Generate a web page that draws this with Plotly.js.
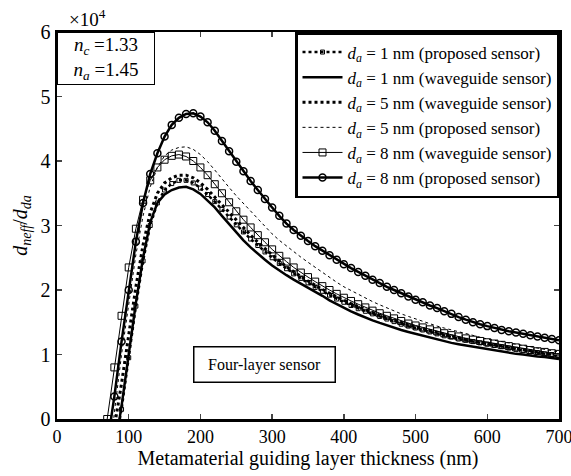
<!DOCTYPE html>
<html>
<head>
<meta charset="utf-8">
<script src="https://cdn.plot.ly/plotly-3.0.1.min.js"></script>
<style>html,body{margin:0;padding:0;background:#fff;}#chart{width:571px;height:476px;}</style>
</head>
<body>
<div id="chart"></div>
<script>
// Metamaterial guiding layer thickness (nm)
const thickness = [70,80,90,100,110,120,130,140,150,160,170,180,190,200,210,220,230,240,250,260,270,280,290,300,310,320,330,340,350,360,370,380,390,400,410,420,430,440,450,460,470,480,490,500,510,520,530,540,550,560,570,580,590,600,610,620,630,640,650,660,670,680,690,700];

// Sensitivity values in units of 1e4
const da1Proposed = [-1.1,-0.45,0.15,0.95,1.75,2.45,3.0,3.35,3.55,3.65,3.7,3.7,3.66,3.58,3.48,3.37,3.25,3.13,3.01,2.9,2.79,2.69,2.59,2.5,2.41,2.33,2.25,2.18,2.11,2.04,1.98,1.92,1.86,1.81,1.76,1.71,1.67,1.63,1.59,1.55,1.51,1.47,1.44,1.41,1.38,1.35,1.32,1.29,1.27,1.24,1.22,1.2,1.18,1.16,1.14,1.12,1.1,1.08,1.06,1.04,1.03,1.01,1.0,0.98];
const da1Waveguide = [-1.2,-0.5,0.2,1.0,1.8,2.5,3.05,3.35,3.48,3.55,3.59,3.6,3.56,3.49,3.39,3.28,3.15,3.02,2.89,2.77,2.66,2.56,2.47,2.38,2.3,2.23,2.16,2.1,2.04,1.98,1.91,1.84,1.78,1.72,1.67,1.62,1.57,1.53,1.49,1.45,1.41,1.38,1.35,1.32,1.29,1.26,1.23,1.21,1.18,1.16,1.14,1.12,1.1,1.08,1.06,1.04,1.03,1.01,1.0,0.98,0.97,0.96,0.94,0.93];
const da5Waveguide = [-0.8,-0.15,0.55,1.3,2.05,2.7,3.2,3.5,3.66,3.74,3.78,3.78,3.74,3.66,3.56,3.44,3.32,3.2,3.08,2.96,2.85,2.74,2.64,2.54,2.45,2.36,2.28,2.21,2.14,2.07,2.01,1.95,1.89,1.84,1.79,1.74,1.69,1.65,1.61,1.57,1.53,1.49,1.46,1.43,1.4,1.37,1.34,1.31,1.28,1.26,1.23,1.21,1.19,1.17,1.15,1.13,1.11,1.09,1.07,1.05,1.04,1.02,1.01,0.99];
const da5Proposed = [-1.0,0.1,1.0,1.8,2.55,3.15,3.6,3.9,4.08,4.17,4.21,4.22,4.18,4.1,3.99,3.86,3.72,3.59,3.46,3.34,3.22,3.1,2.98,2.87,2.77,2.68,2.59,2.51,2.43,2.35,2.27,2.19,2.12,2.05,1.99,1.93,1.87,1.82,1.77,1.72,1.67,1.63,1.59,1.55,1.51,1.47,1.44,1.41,1.38,1.35,1.32,1.29,1.27,1.24,1.22,1.2,1.18,1.16,1.14,1.12,1.1,1.08,1.06,1.04];
const da8Waveguide = [0.0,0.8,1.6,2.35,2.95,3.4,3.7,3.9,4.02,4.08,4.1,4.07,4.0,3.9,3.78,3.64,3.5,3.36,3.22,3.09,2.97,2.85,2.74,2.63,2.53,2.44,2.35,2.27,2.2,2.13,2.06,2.0,1.94,1.88,1.83,1.78,1.73,1.68,1.64,1.6,1.56,1.52,1.48,1.45,1.42,1.39,1.36,1.33,1.3,1.28,1.25,1.23,1.21,1.19,1.17,1.15,1.13,1.11,1.09,1.07,1.05,1.04,1.02,1.01];
const da8Proposed = [-0.4,0.35,1.2,2.0,2.75,3.35,3.8,4.12,4.38,4.56,4.67,4.73,4.74,4.69,4.6,4.47,4.31,4.15,3.99,3.84,3.69,3.55,3.41,3.28,3.15,3.03,2.93,2.84,2.76,2.68,2.61,2.54,2.47,2.4,2.34,2.28,2.22,2.16,2.11,2.05,2.0,1.95,1.9,1.85,1.81,1.76,1.72,1.67,1.63,1.58,1.54,1.5,1.47,1.44,1.41,1.38,1.36,1.34,1.32,1.3,1.28,1.26,1.24,1.22];

const seriesNames = [
  '<i>d</i><sub><i>a</i></sub> = 1 nm (proposed sensor)',
  '<i>d</i><sub><i>a</i></sub> = 1 nm (waveguide sensor)',
  '<i>d</i><sub><i>a</i></sub> = 5 nm (waveguide sensor)',
  '<i>d</i><sub><i>a</i></sub> = 5 nm (proposed sensor)',
  '<i>d</i><sub><i>a</i></sub> = 8 nm (waveguide sensor)',
  '<i>d</i><sub><i>a</i></sub> = 8 nm (proposed sensor)'
];
const xTicks = [0,100,200,300,400,500,600,700];
const yTicks = [0,1,2,3,4,5,6];

const serif = 'Liberation Serif';

const traces = [
  {x: thickness, y: da1Proposed, name: seriesNames[0], mode: 'lines+markers',
   line: {color: '#000', width: 2.5, dash: 'dot'}, marker: {symbol: 'square-open', size: 4, color: '#000', line: {width: 1}}},
  {x: thickness, y: da1Waveguide, name: seriesNames[1], mode: 'lines',
   line: {color: '#000', width: 2.5}},
  {x: thickness, y: da5Waveguide, name: seriesNames[2], mode: 'lines',
   line: {color: '#000', width: 3, dash: 'dot'}},
  {x: thickness, y: da5Proposed, name: seriesNames[3], mode: 'lines',
   line: {color: '#000', width: 1, dash: 'dot'}},
  {x: thickness, y: da8Waveguide, name: seriesNames[4], mode: 'lines+markers',
   line: {color: '#000', width: 1}, marker: {symbol: 'square-open', size: 7, color: '#000', line: {width: 1}}},
  {x: thickness, y: da8Proposed, name: seriesNames[5], mode: 'lines+markers',
   line: {color: '#000', width: 2.5}, marker: {symbol: 'circle-open', size: 7, color: '#000', line: {width: 1.5}}}
];

const layout = {
  width: 571, height: 476,
  margin: {l: 57, r: 12, t: 32, b: 57},
  paper_bgcolor: '#fff', plot_bgcolor: '#fff',
  font: {family: serif, color: '#000'},
  showlegend: true,
  legend: {x: 1, xanchor: 'right', y: 1, yanchor: 'top', bgcolor: '#fff',
           bordercolor: '#000', borderwidth: 2.5, font: {family: serif, size: 17, color: '#000'},
           tracegroupgap: 0, itemwidth: 40},
  xaxis: {range: [0, 700], tickvals: xTicks, ticks: 'inside', ticklen: 5, tickwidth: 1.5,
          showline: true, linewidth: 2.5, linecolor: '#000', mirror: 'ticks', showgrid: false, zeroline: false,
          tickfont: {family: serif, size: 18}, ticklabeloverflow: 'allow',
          title: {text: 'Metamaterial guiding layer thickness (nm)', font: {family: serif, size: 20}, standoff: 2}},
  yaxis: {range: [0, 6], tickvals: yTicks, ticks: 'inside', ticklen: 5, tickwidth: 1.5,
          showline: true, linewidth: 2.5, linecolor: '#000', mirror: 'ticks', showgrid: false, zeroline: false,
          tickfont: {family: serif, size: 20}, ticklabeloverflow: 'allow',
          title: {text: '<i>d</i><sub><i>neff</i></sub>/<i>d</i><sub><i>da</i></sub>', font: {family: serif, size: 20}, standoff: 8}},
  annotations: [
    {xref: 'paper', yref: 'paper', x: 0.02, y: 1.0, xanchor: 'left', yanchor: 'bottom', showarrow: false,
     text: '×10<sup>4</sup>', font: {family: serif, size: 19}},
    {xref: 'paper', yref: 'paper', x: 0.0, y: 1.0, xanchor: 'left', yanchor: 'top', showarrow: false,
     text: '<i>n</i><sub><i>c</i></sub> =1.33<br><i>n</i><sub><i>a</i></sub> =1.45', align: 'center',
     font: {family: serif, size: 19}, bordercolor: '#000', borderwidth: 1, bgcolor: '#fff', borderpad: 1, width: 94},
    {xref: 'paper', yref: 'paper', x: 0.271, y: 0.141, xanchor: 'left', yanchor: 'middle', showarrow: false,
     text: 'Four-layer sensor', font: {family: serif, size: 16},
     bordercolor: '#000', borderwidth: 1.5, bgcolor: '#fff', borderpad: 4, width: 132, height: 26}
  ]
};

Plotly.newPlot('chart', traces, layout, {displayModeBar: false, staticPlot: true});
</script>
</body>
</html>
